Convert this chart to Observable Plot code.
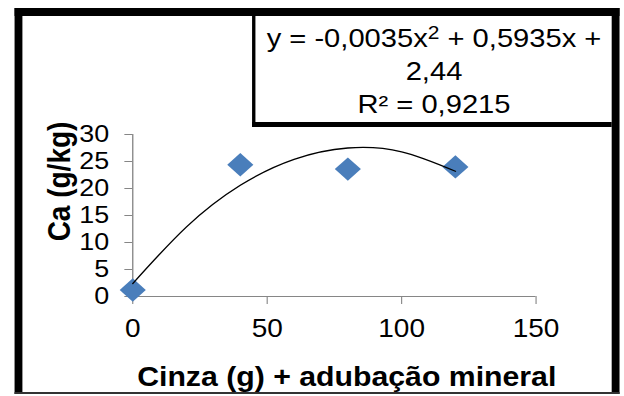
<!DOCTYPE html>
<html>
<head>
<meta charset="utf-8">
<script src="https://cdn.jsdelivr.net/npm/d3@7"></script>
<script src="https://cdn.jsdelivr.net/npm/@observablehq/plot@0.6"></script>
<style>
  html, body { margin: 0; padding: 0; background: #fff; }
  #stage {
    position: relative; width: 557px; height: 396px; overflow: visible;
    transform: scaleX(1.1203); transform-origin: 0 0;
    font-family: "Liberation Sans", Arial, sans-serif;
  }
  #chart { position: absolute; left: 0; top: 0; }
  .bar { position: absolute; background: #000; }
  #eq {
    position: absolute; left: 228.5px; top: 22px; width: 317.8px;
    text-align: center; font-size: 26px; line-height: 33px; color: #000;
  }
  #eq sup { font-size: 0.72em; line-height: 0; vertical-align: 0.45em; }
</style>
</head>
<body>
<div id="stage">
  <div id="chart"></div>
  <!-- outer frame -->
  <div class="bar" style="left:13.4px;top:8px;width:7.1px;height:386px;"></div>
  <div class="bar" style="left:13.4px;top:8px;width:540px;height:8px;"></div>
  <div class="bar" style="left:546.3px;top:8px;width:7.1px;height:386px;"></div>
  <div class="bar" style="left:13.4px;top:392px;width:540px;height:2px;background:#333;"></div>
  <!-- equation box -->
  <div class="bar" style="left:224.9px;top:16px;width:3.6px;height:111px;"></div>
  <div class="bar" style="left:224.9px;top:122px;width:321.4px;height:5px;"></div>
  <div id="eq">y = -0,0035x<sup>2</sup> + 0,5935x +<br>2,44<br>R² = 0,9215</div>
</div>
<script>
// Data
const cinza = [0, 40, 80, 120];
const ca = [1.2, 24.4, 23.6, 24.0];
// Polynomial trend line
const trendX = [0, 20, 40, 60, 80, 100, 120];
const trendY = [2.4, 12.9, 20.6, 25.4, 27.5, 26.8, 23.2];
const xTicks = [0, 50, 100, 150];
const yTicks = [0, 5, 10, 15, 20, 25, 30];
const xLabel = "Cinza (g) + adubação mineral";
const yLabel = "Ca (g/kg)";

const points = cinza.map((c, i) => ({x: c, y: ca[i]}));
const trend = trendX.map((t, i) => ({x: t, y: trendY[i]}));
const axisGray = "#868686";

const chart = Plot.plot({
  width: 557,
  height: 396,
  marginLeft: 118,
  marginRight: 79,
  marginTop: 134,
  marginBottom: 100,
  style: {fontFamily: '"Liberation Sans", Arial, sans-serif', fontSize: "24px", color: "#000", background: "transparent", overflow: "visible"},
  x: {domain: [0, 150], ticks: xTicks},
  y: {domain: [0, 30], ticks: yTicks},
  marks: [
    Plot.ruleX([0], {stroke: axisGray, strokeWidth: 1.2}),
    Plot.ruleY([0], {stroke: axisGray, strokeWidth: 1.2}),
    Plot.axisY({ticks: yTicks, tickSize: 7, tickPadding: 14, stroke: axisGray, fill: "#000", fontSize: 24, label: null}),
    Plot.axisX({ticks: xTicks, tickSize: 8, tickPadding: 15, stroke: axisGray, fill: "#000", fontSize: 25, label: null}),
    Plot.dot(points, {x: "x", y: "y", symbol: "diamond2", r: 10.5, fill: "#4a7ebb", stroke: null}),
    Plot.line(trend, {x: "x", y: "y", curve: "natural", stroke: "#000", strokeWidth: 1.3}),
    Plot.text([xLabel], {frameAnchor: "bottom", lineAnchor: "middle", dx: 11, dy: 81, fontSize: 27, fontWeight: "bold", fill: "#000"}),
    Plot.text([yLabel], {frameAnchor: "left", rotate: -90, lineAnchor: "middle", textAnchor: "middle", dx: -65, dy: -34, fontSize: 28, fontWeight: "bold", fill: "#000"})
  ]
});
document.getElementById("chart").appendChild(chart);
</script>
</body>
</html>
